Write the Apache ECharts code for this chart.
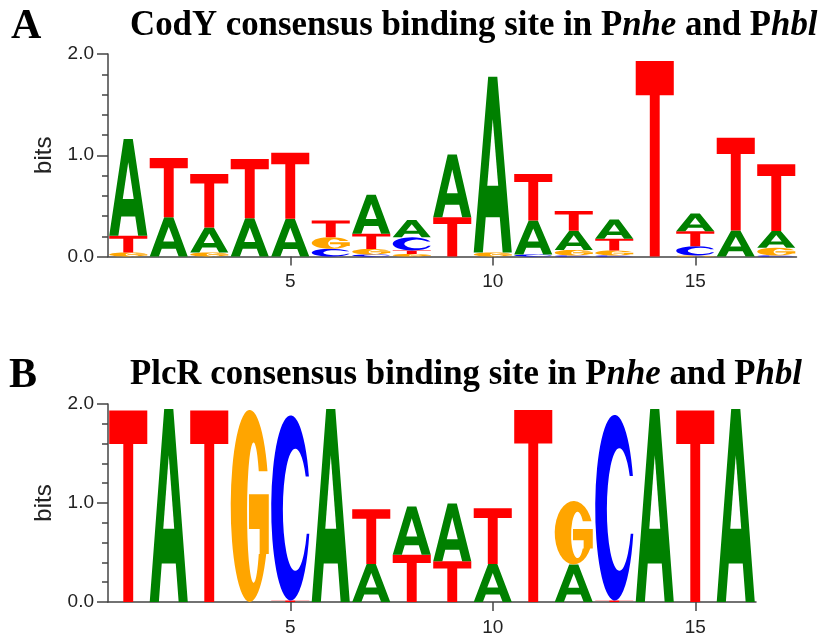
<!DOCTYPE html>
<html>
<head>
<meta charset="utf-8">
<script src="https://cdn.jsdelivr.net/npm/echarts@6/dist/echarts.min.js"></script>
<style>
  html, body { margin: 0; padding: 0; background: #fff; }
  #chart { width: 826px; height: 637px; }
</style>
</head>
<body>
<div id="chart"></div>
<script>
// Information content (bits) of each base at each position.
// Panel A: CodY consensus binding site, positions 1-17
const codyPositions = ['1','2','3','4','5','6','7','8','9','10','11','12','13','14','15','16','17'];
const codyA = [0.955, 0.388, 0.247, 0.378, 0.372, 0,     0.385, 0.17,  0.62,  1.735, 0.336, 0.19,  0.19,  0,    0.175, 0.257, 0.165];
const codyC = [0,     0,     0,     0,     0,     0.076, 0.02,  0.13,  0,     0,     0.02,  0.01,  0.01,  0,    0.092, 0,     0.01];
const codyG = [0.04,  0,     0.04,  0,     0,     0.115, 0.055, 0.025, 0,     0.04,  0,     0.055, 0.05,  0,    0.01,  0,     0.076];
const codyT = [0.165, 0.586, 0.527, 0.586, 0.652, 0.165, 0.15,  0.035, 0.388, 0,     0.46,  0.195, 0.115, 1.93, 0.148, 0.916, 0.66];

// Panel B: PlcR consensus binding site, positions 1-16
const plcrPositions = ['1','2','3','4','5','6','7','8','9','10','11','12','13','14','15','16'];
const plcrA = [0,     1.95, 0,     0,    0,     1.95, 0.385, 0.487, 0.585, 0.385, 0,    0.379, 0,     1.95, 0,     1.95];
const plcrC = [0,     0,    0,     0,    1.87,  0,    0,     0,     0,     0,     0,    0,     1.875, 0,    0,     0];
const plcrG = [0,     0,    0,     1.94, 0,     0,    0,     0,     0,     0,     0,    0.641, 0,     0,    0,     0];
const plcrT = [1.934, 0,    1.934, 0,    0.015, 0,    0.553, 0.477, 0.411, 0.563, 1.94, 0,     0.015, 0,    1.934, 0];

// Axis labels
const bitTicks = [0, 1, 2];
const labelledPositions = ['5', '10', '15'];

const titleA = ['CodY consensus binding site in P', 'nhe', ' and P', 'hbl'];
const titleB = ['PlcR consensus binding site in P', 'nhe', ' and P', 'hbl'];

// Glyph outlines in a 100x100 box (y down); stretched to fill each letter's slot.
const GLYPHS = {
  A: 'M38,0 L62,0 L100,100 L76,100 L68.4,80 L31.6,80 L24,100 L0,100 Z',
  C: 'M97,33 A50,50 0 1 0 98,64 L91.4,64 A32,33 0 1 1 88.8,33 Z',
  G: 'M96.6,32 A50,50 0 1 0 93.3,75 L100,75 L100,44 L48,44 L48,62 L76,62 L76,75 L73.7,75 A17,36.5 0 1 1 73.7,32 Z',
  T: 'M0,0 L100,0 L100,17.5 L63,17.5 L63,100 L37,100 L37,17.5 L0,17.5 Z'
};
// Triangular counter of the A, as fractions of the letter box
const A_COUNTER = { x0: 0.356, x1: 0.644, y0: 0.24, y1: 0.62 };
const COLORS = { A: '#008000', C: '#0000ff', G: '#ffa500', T: '#ff0000' };

// Stack letters at each position, smallest at the bottom.
function buildStacks(cols) {
  const rows = [];
  const letters = [];
  const n = cols.A.length;
  for (let i = 0; i < n; i++) {
    const items = ['A', 'C', 'G', 'T']
      .map(l => ({ l, h: cols[l][i] }))
      .filter(d => d.h > 0)
      .sort((a, b) => a.h - b.h);
    let base = 0;
    items.forEach(d => {
      rows.push([i, base, base + d.h]);
      letters.push(d.l);
      base += d.h;
    });
  }
  return { rows, letters };
}

const stackA = buildStacks({ A: codyA, C: codyC, G: codyG, T: codyT });
const stackB = buildStacks({ A: plcrA, C: plcrC, G: plcrG, T: plcrT });

function makeRenderer(letters) {
  return function (params, api) {
    const x = api.value(0);
    const y0 = api.value(1);
    const y1 = api.value(2);
    const pBottom = api.coord([x, y0]);
    const pTop = api.coord([x, y1]);
    const w = api.size([1, 0])[0] * 0.94;
    const h = pBottom[1] - pTop[1];
    const bx = pBottom[0] - w / 2;
    const by = pTop[1];
    const l = letters[params.dataIndex];
    const children = [{
      type: 'path',
      shape: { pathData: GLYPHS[l], x: bx, y: by, width: w, height: h, layout: 'cover' },
      style: { fill: COLORS[l] }
    }];
    if (l === 'A') {
      children.push({
        type: 'path',
        shape: {
          pathData: 'M50,0 L100,100 L0,100 Z',
          x: bx + w * A_COUNTER.x0, y: by + h * A_COUNTER.y0,
          width: w * (A_COUNTER.x1 - A_COUNTER.x0), height: h * (A_COUNTER.y1 - A_COUNTER.y0),
          layout: 'cover'
        },
        style: { fill: '#ffffff' }
      });
    }
    return { type: 'group', children };
  };
}

const AXIS_COLOR = '#444';
const LABEL_FONT = 'Liberation Sans';

function yAxisFor(gridIndex) {
  return {
    type: 'value', gridIndex, min: bitTicks[0], max: bitTicks[bitTicks.length - 1], interval: 1,
    name: 'bits', nameLocation: 'middle', nameGap: 38,
    nameTextStyle: { fontFamily: LABEL_FONT, fontSize: 24, color: '#222' },
    axisLine: { show: true, lineStyle: { color: AXIS_COLOR, width: 1.5 } },
    axisTick: { show: true, length: 11, lineStyle: { color: AXIS_COLOR, width: 1.5 } },
    minorTick: { show: true, splitNumber: 5, length: 6, lineStyle: { color: AXIS_COLOR, width: 1.5 } },
    splitLine: { show: false },
    axisLabel: { margin: 14, fontFamily: LABEL_FONT, fontSize: 19, color: '#222', formatter: v => v.toFixed(1) }
  };
}

function xAxesFor(gridIndex, cats) {
  const isLabelled = (idx) => labelledPositions.indexOf(cats[idx]) >= 0;
  return [
    {
      type: 'category', gridIndex, data: cats, boundaryGap: true,
      axisLine: { show: true, lineStyle: { color: AXIS_COLOR, width: 1.5 } },
      axisTick: { show: true, alignWithLabel: true, length: 5, lineStyle: { color: AXIS_COLOR, width: 1.5 } },
      axisLabel: { interval: (idx) => isLabelled(idx), margin: 16, fontFamily: LABEL_FONT, fontSize: 19, color: '#222' }
    },
    {
      type: 'category', gridIndex, data: cats, boundaryGap: true, position: 'bottom',
      axisLine: { show: false },
      axisTick: { show: true, alignWithLabel: true, interval: (idx) => isLabelled(idx), length: 9, lineStyle: { color: AXIS_COLOR, width: 1.5 } },
      axisLabel: { show: false }
    }
  ];
}

function richTitle(parts) {
  return '{b|' + parts[0] + '}{i|' + parts[1] + '}{b|' + parts[2] + '}{i|' + parts[3] + '}';
}
const titleRich = {
  b: { fontFamily: 'Liberation Serif', fontWeight: 'bold', fontSize: 34.8, lineHeight: 35, color: '#000' },
  i: { fontFamily: 'Liberation Serif', fontWeight: 'bold', fontStyle: 'italic', fontSize: 34.8, lineHeight: 35, color: '#000' }
};
const panelLetterStyle = { fontFamily: 'Liberation Serif', fontWeight: 'bold', fontSize: 42, lineHeight: 42, color: '#000' };

const chart = echarts.init(document.getElementById('chart'), null, { renderer: 'canvas' });
chart.setOption({
  backgroundColor: '#fff',
  animation: false,
  title: [
    { text: 'A', left: 11, top: 6, padding: 0, textStyle: panelLetterStyle },
    { text: richTitle(titleA), left: 130, top: 9, padding: 0, textStyle: { rich: titleRich } },
    { text: 'B', left: 9, top: 355, padding: 0, textStyle: panelLetterStyle },
    { text: richTitle(titleB), left: 130, top: 358, padding: 0, textStyle: { rich: titleRich } }
  ],
  grid: [
    { left: 108, top: 54, width: 688.5, height: 202.5 },
    { left: 108, top: 404, width: 648, height: 202.7 }
  ],
  xAxis: [].concat(xAxesFor(0, codyPositions), xAxesFor(1, plcrPositions)),
  yAxis: [yAxisFor(0), yAxisFor(1)],
  series: [
    {
      type: 'custom', xAxisIndex: 0, yAxisIndex: 0,
      renderItem: makeRenderer(stackA.letters),
      encode: { x: 0, y: [1, 2] },
      data: stackA.rows
    },
    {
      type: 'custom', xAxisIndex: 2, yAxisIndex: 1,
      renderItem: makeRenderer(stackB.letters),
      encode: { x: 0, y: [1, 2] },
      data: stackB.rows
    }
  ]
});
</script>
</body>
</html>
